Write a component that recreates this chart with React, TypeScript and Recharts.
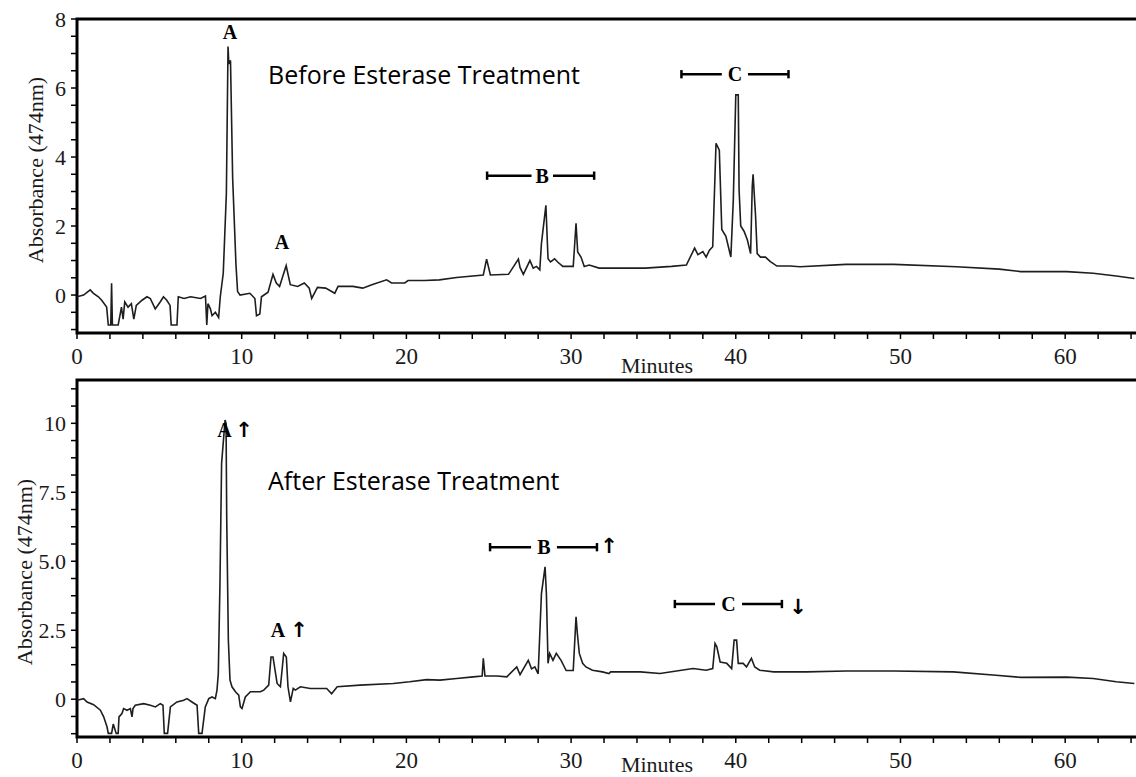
import { LineChart, Line, XAxis, YAxis, ReferenceArea, ReferenceLine, ReferenceDot } from "recharts";

// retention time (min) / absorbance
const beforeTime = [
  0, 0.4, 0.8, 1.0, 1.3, 1.5, 1.8, 1.9, 2.05, 2.1, 2.15, 2.5, 2.7, 2.8, 2.9, 3.1, 3.3, 3.45, 3.6, 3.95,
  4.25, 4.45, 4.75, 5.05, 5.25, 5.45, 5.65, 5.72, 6.07, 6.15, 6.5, 6.9, 7.5, 7.8, 7.88, 7.95, 8.1, 8.2, 8.4, 8.6,
  8.7, 8.88, 9.07, 9.17, 9.22, 9.32, 9.45, 9.65, 9.75, 9.9, 10.5, 10.8, 10.9, 11.1, 11.2, 11.6, 11.9, 12.1, 12.3, 12.5,
  12.7, 12.95, 13.4, 13.8, 14.1, 14.25, 14.6, 15.1, 15.65, 15.85, 16.75, 17.35, 17.9, 18.8, 19.1, 19.9, 20.1, 21.1, 22.0, 23.05,
  24.67, 24.87, 25.1, 26.2, 26.8, 26.9, 27.1, 27.5, 27.7, 27.9, 28.1, 28.2, 28.47, 28.6, 28.75, 29.0, 29.2, 29.5, 30.13, 30.3,
  30.4, 30.6, 30.8, 31.1, 31.7, 33.1, 34.5, 36.1, 37.0, 37.5, 37.7, 38.0, 38.2, 38.4, 38.6, 38.8, 39.0, 39.15, 39.4, 39.7,
  39.85, 40.0, 40.15, 40.2, 40.3, 40.5, 40.7, 40.9, 41.0, 41.05, 41.2, 41.3, 41.5, 41.8, 42.1, 42.5, 43.3, 43.9, 46.7, 49.6,
  53.4, 56.0, 57.3, 60.1, 61.7, 63.1, 64.2,
];
const beforeAbs = [
  -0.05, 0.0, 0.15, 0.05, -0.05, -0.15, -0.35, -0.87, -0.87, 0.34, -0.87, -0.87, -0.35, -0.7, -0.2, -0.35, -0.25, -0.7, -0.3, -0.15,
  -0.05, -0.1, -0.4, -0.2, -0.05, -0.15, -0.3, -0.87, -0.87, -0.05, -0.1, -0.05, -0.1, -0.03, -0.87, -0.25, -0.4, -0.6, -0.5, -0.65,
  -0.05, 0.63, 2.95, 7.2, 6.7, 6.8, 3.4, 0.9, 0.1, 0.0, 0.05, -0.1, -0.6, -0.55, -0.05, 0.08, 0.6, 0.35, 0.25, 0.55,
  0.85, 0.3, 0.25, 0.35, 0.2, -0.1, 0.22, 0.2, 0.05, 0.25, 0.25, 0.2, 0.3, 0.44, 0.35, 0.35, 0.42, 0.42, 0.44, 0.51,
  0.58, 1.04, 0.58, 0.6, 1.04, 0.8, 0.6, 1.0, 0.78, 0.83, 0.73, 1.5, 2.6, 1.05, 0.96, 1.05, 0.95, 0.83, 0.83, 2.08,
  1.25, 1.1, 0.83, 0.87, 0.78, 0.78, 0.78, 0.83, 0.87, 1.36, 1.17, 1.26, 1.1, 1.3, 1.4, 4.4, 4.2, 1.9, 1.7, 1.1,
  2.76, 5.8, 5.8, 3.05, 2.0, 1.85, 1.6, 1.2, 3.15, 3.5, 2.3, 1.2, 1.1, 1.1, 0.97, 0.84, 0.84, 0.82, 0.89, 0.89,
  0.82, 0.75, 0.68, 0.68, 0.63, 0.55, 0.48,
];

const afterTime = [
  0, 0.4, 0.61, 1.01, 1.42, 1.62, 1.82, 1.9, 2.1, 2.2, 2.38, 2.5, 2.55, 2.73, 2.83, 3.04, 3.24, 3.34, 3.4, 3.54,
  4.05, 4.45, 4.76, 5.06, 5.22, 5.3, 5.5, 5.67, 6.07, 6.48, 6.68, 6.98, 7.29, 7.39, 7.59, 7.79, 8.0, 8.2, 8.4, 8.5,
  8.58, 8.68, 8.78, 8.99, 9.05, 9.09, 9.19, 9.29, 9.41, 9.62, 9.82, 9.92, 10.02, 10.22, 10.53, 11.13, 11.34, 11.64, 11.78, 11.9,
  12.15, 12.35, 12.55, 12.71, 12.81, 12.96, 13.13, 13.26, 13.56, 14.17, 14.57, 15.16, 15.46, 15.8, 17.18, 19.2, 20.2, 21.23, 22.04, 23.05,
  24.06, 24.6, 24.67, 24.77, 25.5, 26.1, 26.7, 26.9, 27.4, 27.6, 27.8, 28.0, 28.2, 28.42, 28.5, 28.6, 28.7, 28.9, 29.1, 29.4,
  29.7, 30.13, 30.3, 30.38, 30.5, 30.7, 30.9, 31.3, 31.9, 32.3, 32.4, 34.2, 35.4, 37.4, 38.2, 38.6, 38.74, 38.85, 39.05, 39.45,
  39.75, 39.9, 40.05, 40.15, 40.45, 40.65, 40.95, 41.15, 41.45, 42.3, 44.3, 46.7, 49.6, 53.2, 55.8, 57.3, 60.1, 61.7, 63.1, 64.2,
];
const afterAbs = [
  -0.04, 0.02, -0.1, -0.2, -0.4, -0.64, -1.0, -1.24, -1.24, -0.9, -1.24, -1.24, -0.64, -0.52, -0.34, -0.4, -0.34, -0.64, -0.34, -0.22,
  -0.16, -0.22, -0.28, -0.16, -0.22, -1.24, -1.24, -0.28, -0.1, -0.04, 0.02, -0.1, -0.22, -1.24, -1.24, -0.28, 0.02, 0.08, 0.02, 0.33,
  0.93, 4.2, 8.55, 10.12, 10.0, 6.6, 2.14, 0.69, 0.45, 0.27, 0.15, -0.28, -0.34, 0.08, 0.27, 0.27, 0.33, 0.51, 1.53, 1.53,
  0.57, 0.45, 1.66, 1.53, 0.45, -0.1, 0.39, 0.33, 0.45, 0.39, 0.39, 0.39, 0.2, 0.45, 0.51, 0.57, 0.63, 0.71, 0.69, 0.75,
  0.81, 0.84, 1.48, 0.84, 0.84, 0.81, 1.17, 0.89, 1.41, 1.1, 1.17, 0.92, 3.83, 4.8, 3.83, 1.3, 1.66, 1.41, 1.66, 1.4,
  1.04, 1.04, 2.99, 2.38, 1.66, 1.3, 1.17, 1.05, 0.99, 0.93, 0.99, 0.99, 0.93, 1.11, 1.05, 1.11, 2.02, 1.9, 1.35, 1.3,
  1.11, 2.14, 2.14, 1.3, 1.3, 1.17, 1.48, 1.17, 1.05, 0.99, 0.99, 1.02, 1.02, 0.99, 0.87, 0.79, 0.8, 0.75, 0.63, 0.57,
];

const xMajor = [0, 10, 20, 30, 40, 50, 60];
const xTicks = [
  0, 2, 4, 6, 8, 10, 12, 14, 16, 18, 20, 22, 24, 26, 28, 30, 32, 34,
  36, 38, 40, 42, 44, 46, 48, 50, 52, 54, 56, 58, 60, 62, 64, 66,
];
const beforeYMajor = [0, 2, 4, 6, 8];
const beforeYTicks = [-1, -0.5, 0, 0.5, 1, 1.5, 2, 2.5, 3, 3.5, 4, 4.5, 5, 5.5, 6, 6.5, 7, 7.5, 8];
const afterYMajor = [0, 2.5, 5, 7.5, 10];
const afterYTicks = [
  -1.25, -0.625, 0, 0.625, 1.25, 1.875, 2.5, 3.125, 3.75, 4.375, 5, 5.625, 6.25,
  6.875, 7.5, 8.125, 8.75, 9.375, 10, 10.625, 11.25,
];

const beforeData = beforeTime.map((t, i) => ({ t, v: beforeAbs[i] }));
const afterData = afterTime.map((t, i) => ({ t, v: afterAbs[i] }));

const X_MAX = 66;
const CHART_W = 1164;
const LEFT = 77;
const serif = '"Liberation Serif", "Times New Roman", serif';
const sans = '"Open Sans", sans-serif';
const arrowFont = '"DejaVu Sans", sans-serif';
const ink = "#1a1a1a";

const XTick = (p: any) => {
  const { x, y, payload } = p;
  const major = xMajor.includes(payload.value);
  return (
    <g>
      <line x1={x} x2={x} y1={y} y2={y + 6} stroke="#000" strokeWidth={1.5} />
      {major && (
        <text x={x} y={y + 31} textAnchor="middle" fontFamily={serif} fontSize={23} fill={ink}>
          {payload.value}
        </text>
      )}
    </g>
  );
};

const YTick = (p: any) => {
  const { x, y, payload, major, fmt } = p;
  const isMajor = major.includes(payload.value);
  return (
    <g>
      <line x1={x - 6} x2={x} y1={y} y2={y} stroke="#000" strokeWidth={1.5} />
      {isMajor && (
        <text x={x - 11} y={y} textAnchor="end" dominantBaseline="central" fontFamily={serif} fontSize={22} fill={ink}>
          {fmt(payload.value)}
        </text>
      )}
    </g>
  );
};

const YTitle = ({ px, py }: any) => (
  <text
    x={px}
    y={py}
    transform={`rotate(-90 ${px} ${py})`}
    textAnchor="middle"
    dominantBaseline="central"
    fontFamily={serif}
    fontSize={22}
    fill={ink}
  >
    Absorbance (474nm)
  </text>
);

const XTitle = ({ px, py }: any) => (
  <text x={px} y={py} textAnchor="middle" fontFamily={serif} fontSize={22} fill={ink}>
    Minutes
  </text>
);

const note = (key: string, x: number, y: number, text: string, font: string, size: number, weight = "bold", anchor = "middle") => (
  <ReferenceDot
    key={key}
    x={x}
    y={y}
    r={0}
    ifOverflow="visible"
    shape={(p: any) => (
      <text
        x={p.cx}
        y={p.cy}
        textAnchor={anchor}
        dominantBaseline="central"
        fontFamily={font}
        fontSize={size}
        fontWeight={weight}
        fill="#000"
      >
        {text}
      </text>
    )}
  />
);

// horizontal bracket with end caps, broken around the letter
const bracket = (key: string, x1: number, g1: number, g2: number, x2: number, y: number, cap: number) => [
  [x1, g1],
  [g2, x2],
].map(([a, b], i) => (
  <ReferenceLine key={`${key}-s${i}`} segment={[{ x: a, y }, { x: b, y }]} stroke="#000" strokeWidth={2.5} ifOverflow="visible" />
)).concat(
  [x1, x2].map((xx, i) => (
    <ReferenceLine key={`${key}-c${i}`} segment={[{ x: xx, y: y - cap }, { x: xx, y: y + cap }]} stroke="#000" strokeWidth={2.5} ifOverflow="visible" />
  ))
);

function Panel({ data, top, height, plotTop, plotBottom, minutesDy, yDomain, yTicks, yMajor, fmt, titleX, titleY, children }: any) {
  const xAxisH = height - plotBottom;
  return (
    <div style={{ position: "absolute", left: 0, top }}>
      <LineChart width={CHART_W} height={height} data={data} margin={{ top: plotTop, right: 0, left: 0, bottom: 0 }}>
        <XAxis
          dataKey="t"
          type="number"
          domain={[0, X_MAX]}
          ticks={xTicks}
          interval={0}
          allowDataOverflow
          height={xAxisH}
          axisLine={false}
          tickLine={false}
          tickSize={0}
          tickMargin={0}
          tick={(p: any) => <XTick {...p} />}
          label={<XTitle px={657} py={plotBottom + minutesDy} />}
        />
        <YAxis
          type="number"
          domain={yDomain}
          ticks={yTicks}
          interval={0}
          allowDataOverflow
          width={LEFT}
          axisLine={false}
          tickLine={false}
          tickSize={0}
          tickMargin={0}
          tick={(p: any) => <YTick {...p} major={yMajor} fmt={fmt} />}
          label={<YTitle px={titleX} py={titleY} />}
        />
        <ReferenceArea
          x1={0}
          x2={X_MAX}
          y1={yDomain[0]}
          y2={yDomain[1]}
          fill="none"
          stroke="#000"
          strokeWidth={3}
          ifOverflow="visible"
        />
        <Line dataKey="v" type="linear" stroke="#1e1e1e" strokeWidth={1.6} dot={false} isAnimationActive={false} />
        {children}
      </LineChart>
    </div>
  );
}

const afterLabels: Record<number, string> = { 0: "0", 2.5: "2.5", 5: "5.0", 7.5: "7.5", 10: "10" };

export default function App() {
  return (
    <div style={{ position: "absolute", left: 0, top: 0, width: 1136, height: 777, overflow: "hidden", background: "#fff" }}>
      <Panel
        data={beforeData}
        top={0}
        height={385}
        plotTop={19}
        plotBottom={333}
        minutesDy={40}
        yDomain={[-1.1, 8]}
        yTicks={beforeYTicks}
        yMajor={beforeYMajor}
        fmt={(v: number) => String(v)}
        titleX={35}
        titleY={170}
      >
        {note("a1", 9.29, 7.62, "A", serif, 20)}
        {note("a2", 12.45, 1.54, "A", serif, 20)}
        {bracket("b", 24.9, 27.6, 28.9, 31.4, 3.46, 0.12)}
        {note("b", 28.25, 3.46, "B", serif, 20)}
        {bracket("c", 36.7, 39.15, 40.74, 43.2, 6.4, 0.12)}
        {note("c", 39.95, 6.4, "C", serif, 20)}
        {note("t", 11.6, 6.4, "Before Esterase Treatment", sans, 25, "normal", "start")}
      </Panel>
      <Panel
        data={afterData}
        top={370}
        height={407}
        plotTop={10}
        plotBottom={367}
        minutesDy={35}
        yDomain={[-1.37, 11.57]}
        yTicks={afterYTicks}
        yMajor={afterYMajor}
        fmt={(v: number) => afterLabels[v]}
        titleX={24}
        titleY={202}
      >
        {note("a1", 8.95, 9.76, "A", serif, 20)}
        {note("a1u", 10.14, 9.76, "↑", arrowFont, 21)}
        {note("a2", 12.2, 2.5, "A", serif, 20)}
        {note("a2u", 13.48, 2.5, "↑", arrowFont, 21)}
        {bracket("b", 25.08, 27.57, 29.14, 31.57, 5.51, 0.15)}
        {note("b", 28.35, 5.51, "B", serif, 20)}
        {note("bu", 32.3, 5.55, "↑", arrowFont, 21)}
        {bracket("c", 36.3, 38.74, 40.38, 42.8, 3.45, 0.15)}
        {note("c", 39.55, 3.45, "C", serif, 20)}
        {note("cd", 43.78, 3.35, "↓", arrowFont, 21)}
        {note("t", 11.6, 7.94, "After Esterase Treatment", sans, 25, "normal", "start")}
      </Panel>
    </div>
  );
}
